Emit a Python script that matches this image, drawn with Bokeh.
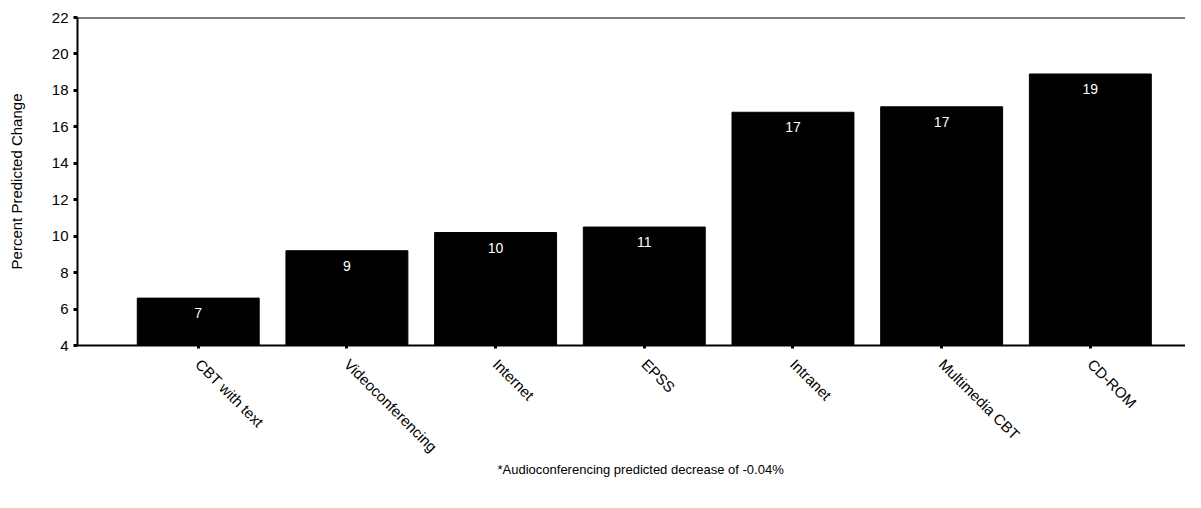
import math
from bokeh.plotting import figure
from bokeh.models import ColumnDataSource, LabelSet, Title, Span, FixedTicker, Range1d
from bokeh.core.properties import value
from bokeh.embed import file_html
from bokeh.resources import INLINE

categories = ["CBT with text", "Videoconferencing", "Internet", "EPSS",
              "Intranet", "Multimedia CBT", "CD-ROM"]
values = [6.6, 9.2, 10.2, 10.5, 16.8, 17.1, 18.9]
value_labels = ["7", "9", "10", "11", "17", "17", "19"]
y_ticks = [4, 6, 8, 10, 12, 14, 16, 18, 20, 22]
footnote = "*Audioconferencing predicted decrease of -0.04%"

xs = list(range(len(categories)))
src = ColumnDataSource(dict(x=xs, top=values, lab=value_labels))

FONT = "Liberation Sans"

p = figure(width=1185, height=492, output_backend="svg", toolbar_location=None,
           x_range=Range1d(-0.812, 6.64), y_range=Range1d(4, 22),
           min_border_left=77, min_border_top=17, min_border_right=0,
           min_border_bottom=147)
p.background_fill_color = "white"
p.border_fill_color = "white"
p.outline_line_color = None
p.xgrid.visible = False
p.ygrid.visible = False

p.vbar(x="x", top="top", bottom=4, width=0.82, source=src,
       fill_color="black", line_color="black")

p.add_layout(LabelSet(x="x", y="top", text="lab", source=src, y_offset=-15,
                      text_align="center", text_baseline="middle",
                      text_color="white", text_font=value(FONT), text_font_size="14px"))

p.add_layout(Span(location=22, dimension="width", line_color="black", line_width=2))

# y axis
p.yaxis.ticker = FixedTicker(ticks=y_ticks)
p.yaxis.axis_label = "Percent Predicted Change"
p.yaxis.axis_label_text_font = FONT
p.yaxis.axis_label_text_font_style = "normal"
p.yaxis.axis_label_text_font_size = "15px"
p.yaxis.axis_label_text_color = "black"
p.yaxis.axis_label_standoff = 24
p.yaxis.major_label_text_font = FONT
p.yaxis.major_label_text_font_size = "15px"
p.yaxis.major_label_text_color = "black"
p.yaxis.axis_line_width = 2
p.yaxis.major_tick_line_width = 3
p.yaxis.major_tick_out = 4
p.yaxis.major_tick_in = 0
p.yaxis.minor_tick_line_color = None
p.yaxis.major_label_standoff = 5

# x axis
p.xaxis.ticker = FixedTicker(ticks=xs)
p.xaxis.major_label_overrides = {i: c for i, c in zip(xs, categories)}
p.xaxis.major_label_orientation = -math.pi / 4
p.xaxis.major_label_text_font = FONT
p.xaxis.major_label_text_font_size = "15px"
p.xaxis.major_label_text_color = "black"
p.xaxis.axis_line_width = 2
p.xaxis.major_tick_line_width = 3
p.xaxis.major_tick_out = 3
p.xaxis.major_tick_in = 0
p.xaxis.minor_tick_line_color = None
p.xaxis.major_label_standoff = 13

p.add_layout(Title(text=footnote, align="left", offset=420, standoff=-9,
                   text_color="black", text_font=FONT, text_font_size="13px",
                   text_font_style="normal"),
             "below")

open("out.html", "w").write(file_html(p, INLINE))
